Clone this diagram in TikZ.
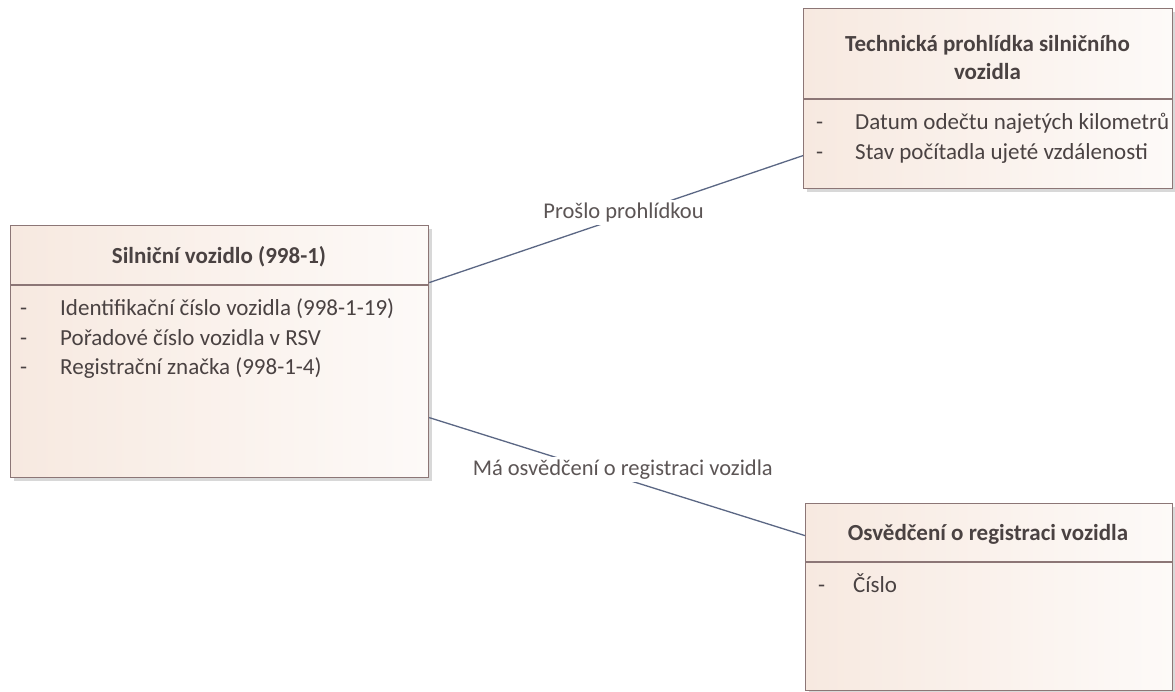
\documentclass[tikz,border=0pt]{standalone}
\usepackage{fontspec}
\setmainfont{Carlito}
\usetikzlibrary{shadows,calc}
\definecolor{txt}{HTML}{4A4242}
\definecolor{edge}{HTML}{8C7676}
\definecolor{fillL}{HTML}{F7E9E0}
\definecolor{fillR}{HTML}{FDFAF8}
\definecolor{conn}{HTML}{5B6784}
\tikzset{
  classbox/.style={draw=edge, line width=1.2pt, rectangle, inner sep=0pt,
    left color=fillL, right color=fillR,
    drop shadow={shadow xshift=3pt, shadow yshift=-3pt, opacity=0.25, fill=black!60}},
  divider/.style={draw=edge, line width=1.2pt},
  ttl/.style={text=txt, font=\fontsize{23}{28}\selectfont\bfseries, align=center, inner sep=0pt},
  attr/.style={text=txt, font=\fontsize{23}{28}\selectfont, anchor=base west, inner sep=0pt},
  conline/.style={draw=conn, line width=1.3pt},
  clabel/.style={text=txt!90, font=\fontsize{22.5}{26}\selectfont, fill=white, inner xsep=3pt, inner ysep=3pt}
}
\begin{document}
\begin{tikzpicture}[x=1pt,y=-1pt]
\useasboundingbox (0,0) rectangle (1175,691);
\fill[white] (0,0) rectangle (1175,691);

% Box 1
\node[classbox, minimum width=418pt, minimum height=252pt, anchor=north west] (b1) at (10,225) {};
\coordinate (d1) at (10,285);
\draw[divider] (d1) -- (d1 -| b1.east);
\node[ttl] (t1) at (219,257) {Silniční vozidlo (998-1)};
\node[attr] (a1m) at (20,315) {-};
\node[attr] (a1) at (60,315) {Identifikační číslo vozidla (998-1-19)};
\node[attr] (a2m) at (20,345) {-};
\node[attr] (a2) at (60,345) {Pořadové číslo vozidla v RSV};
\node[attr] (a3m) at (20,374) {-};
\node[attr] (a3) at (60,374) {Registrační značka (998-1-4)};

% Box 2
\node[classbox, minimum width=369pt, minimum height=180pt, anchor=north west] (b2) at (803,8) {};
\coordinate (d2) at (803,99);
\draw[divider] (d2) -- (d2 -| b2.east);
\node[ttl] (t2) at (987.5,58) {Technická prohlídka silničního\\vozidla};
\node[attr] (c1m) at (816,129) {-};
\node[attr] (c1) at (855,129) {Datum odečtu najetých kilometrů};
\node[attr] (c2m) at (816,159) {-};
\node[attr] (c2) at (855,159) {Stav počítadla ujeté vzdálenosti};

% Box 3
\node[classbox, minimum width=367pt, minimum height=187pt, anchor=north west] (b3) at (805,503) {};
\coordinate (d3) at (805,562);
\draw[divider] (d3) -- (d3 -| b3.east);
\node[ttl] (t3) at (988,534) {Osvědčení o registraci vozidla};
\node[attr] (e1m) at (818,592) {-};
\node[attr] (e1) at (853,592) {Číslo};

% Connectors
\draw[conline] ([yshift=69pt]b1.east) -- ([yshift=-57pt]b2.west)
  node[clabel, pos=0.52, yshift=4pt] (l1) {Prošlo prohlídkou};
\draw[conline] ([yshift=-66pt]b1.east) -- ([yshift=61.5pt]b3.west)
  node[clabel, pos=0.515, yshift=9pt] (l2) {Má osvědčení o registraci vozidla};
\end{tikzpicture}
\end{document}
